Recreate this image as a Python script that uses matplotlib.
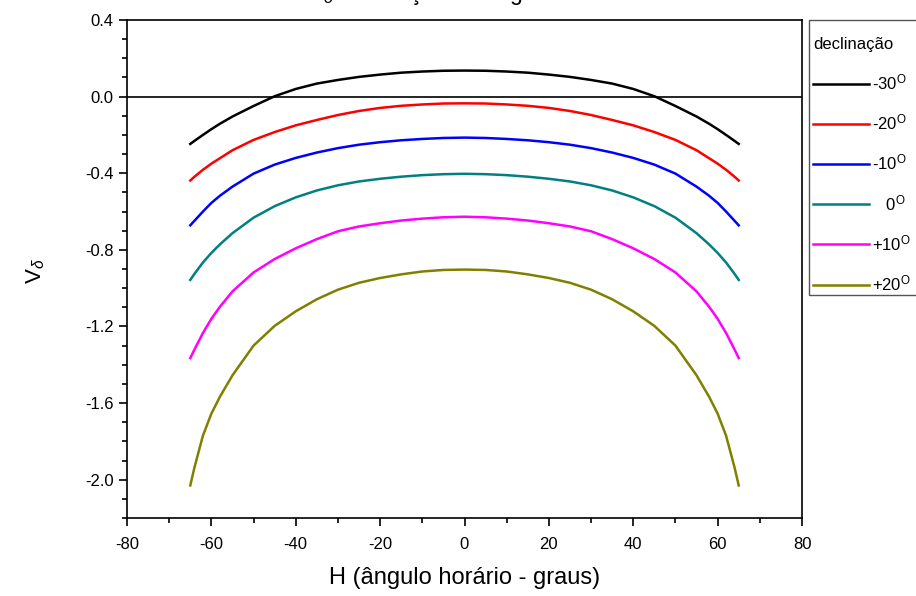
import matplotlib
matplotlib.use("Agg")
import matplotlib.pyplot as plt
from matplotlib.ticker import MultipleLocator
from matplotlib.patches import Rectangle

plt.rcParams['font.family'] = ['Liberation Sans', 'DejaVu Sans']
plt.rcParams['mathtext.fontset'] = 'custom'
plt.rcParams['mathtext.rm'] = 'Liberation Sans'
plt.rcParams['mathtext.it'] = 'Liberation Sans:italic'
plt.rcParams['axes.unicode_minus'] = False

# angulo horario (graus), metade esquerda; as curvas sao simetricas em H
h_esq = [-65, -64, -62, -60, -58, -55, -50, -45, -40, -35, -30, -25, -20, -15, -10, -5, 0]

v_menos30 = [-0.247, -0.231, -0.200, -0.170, -0.142, -0.104, -0.049, 0.002, 0.040, 0.068, 0.087,
             0.103, 0.115, 0.125, 0.131, 0.135, 0.136]
v_menos20 = [-0.438, -0.418, -0.382, -0.350, -0.322, -0.280, -0.226, -0.185, -0.150, -0.122, -0.096,
             -0.075, -0.059, -0.048, -0.041, -0.036, -0.035]
v_menos10 = [-0.672, -0.648, -0.600, -0.555, -0.518, -0.470, -0.402, -0.355, -0.320, -0.292, -0.269,
             -0.251, -0.238, -0.228, -0.221, -0.216, -0.214]
v_zero = [-0.957, -0.925, -0.866, -0.816, -0.772, -0.713, -0.632, -0.572, -0.526, -0.490, -0.463,
          -0.443, -0.429, -0.418, -0.410, -0.405, -0.403]
v_mais10 = [-1.365, -1.320, -1.234, -1.160, -1.098, -1.017, -0.918, -0.848, -0.792, -0.744, -0.703,
            -0.678, -0.661, -0.647, -0.637, -0.630, -0.627]
v_mais20 = [-2.030, -1.935, -1.770, -1.655, -1.568, -1.455, -1.300, -1.197, -1.121, -1.058, -1.008,
            -0.972, -0.947, -0.928, -0.913, -0.905, -0.903]

rotulos = ['-30$^{\\mathrm{O}}$', '-20$^{\\mathrm{O}}$', '-10$^{\\mathrm{O}}$',
           '   0$^{\\mathrm{O}}$', '+10$^{\\mathrm{O}}$', '+20$^{\\mathrm{O}}$']
cores = ['black', '#ff0000', '#0000ff', '#008080', '#ff00ff', '#808000']


def espelhar(h, v):
    # completa a metade direita (H > 0)
    return h + [-x for x in h[-2::-1]], v + v[-2::-1]


fig = plt.figure(figsize=(9.16, 5.96), dpi=100)
ax = fig.add_axes([127 / 916, 1 - 518 / 596, 675 / 916, 498 / 596])

series = [v_menos30, v_menos20, v_menos10, v_zero, v_mais10, v_mais20]
for v, cor, rot in zip(series, cores, rotulos):
    x, y = espelhar(h_esq, v)
    ax.plot(x, y, color=cor, lw=1.8, label=rot)

ax.axhline(0, color='black', lw=1.2)

ax.set_xlim(-80, 80)
ax.set_ylim(-2.2, 0.4)
ax.xaxis.set_major_locator(MultipleLocator(20))
ax.xaxis.set_minor_locator(MultipleLocator(10))
ax.yaxis.set_major_locator(MultipleLocator(0.4))
ax.yaxis.set_minor_locator(MultipleLocator(0.1))
ax.yaxis.set_major_formatter(plt.FuncFormatter(lambda v, p: '%.1f' % v))
ax.tick_params(which='major', direction='out', length=6, width=1.2, labelsize=12, top=False, right=False)
ax.tick_params(which='minor', direction='out', length=3.5, width=1.2, top=False, right=False)
ax.tick_params(axis='x', which='major', pad=8)
for s in ax.spines.values():
    s.set_linewidth(1.2)

ax.set_xlabel('H (ângulo horário - graus)', fontsize=17)
ax.xaxis.set_label_coords(0.5, -0.098)
ax.set_ylabel('V$_\\delta$', fontsize=16)
ax.yaxis.set_label_coords(-0.118, 0.496)

# titulo quase todo cortado pela borda de cima
fig.text(308 / 916, 1 + 0.5 / 596, 'V$_\\delta$ em função do ângulo horário', fontsize=16.5,
         ha='left', va='baseline')

# moldura da legenda (sai pela borda direita)
fig.patches.append(Rectangle((809 / 916, 1 - 295 / 596), 0.2, 275 / 596, transform=fig.transFigure,
                             fill=False, edgecolor='#555555', lw=1.0))

leg = ax.legend(loc='upper left', bbox_to_anchor=(809 / 916, 1 - 33 / 596),
                bbox_transform=fig.transFigure, title='declinação', fontsize=12,
                title_fontsize=12, frameon=False, handlelength=3.35, borderaxespad=0,
                labelspacing=1.22, borderpad=0.25, handletextpad=0.2)
leg._legend_box.align = 'left'

fig.savefig('out.png', dpi=100)
